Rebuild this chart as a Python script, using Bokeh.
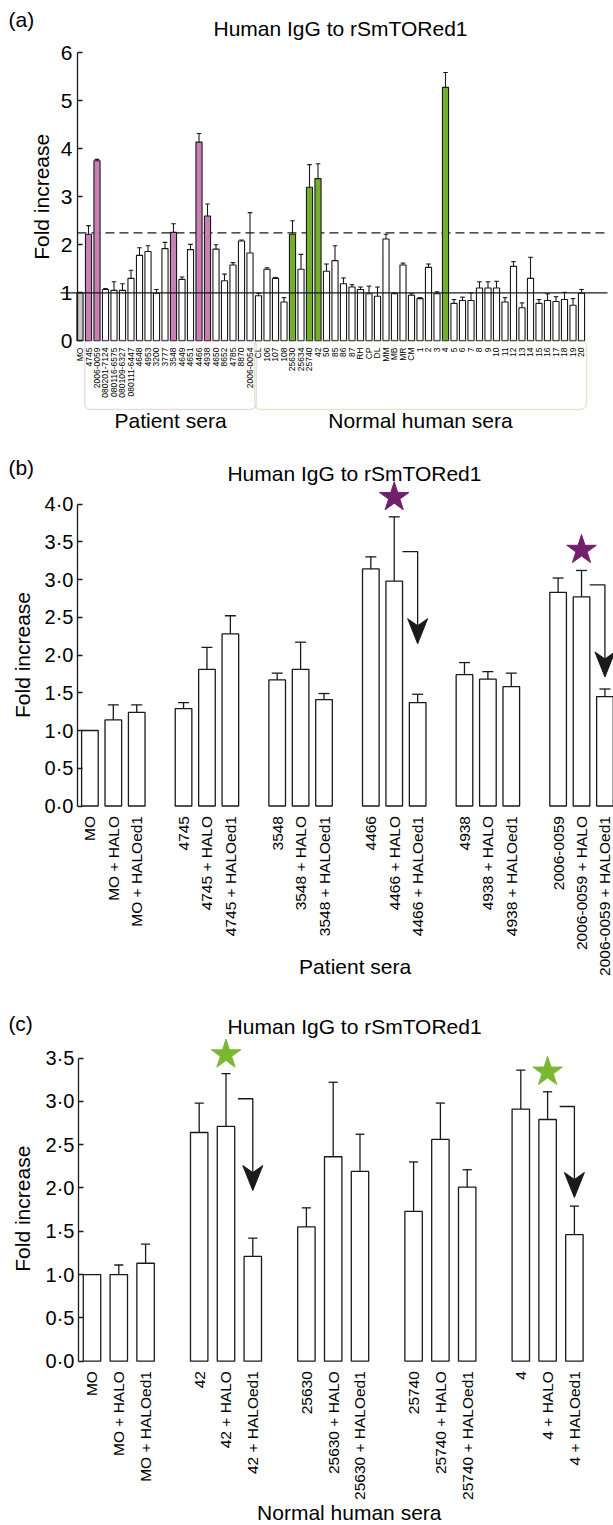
import math
from bokeh.plotting import figure
from bokeh.layouts import column
from bokeh.models import Range1d, FixedTicker, BoxAnnotation, CustomJSTickFormatter
from bokeh.core.properties import value
from bokeh.embed import file_html
from bokeh.resources import INLINE

FONT = "Liberation Sans"
INK = "#1a1a1a"
PINK = "#c77fb5"
GREEN = "#74ae2d"
GREEN_STAR = "#7ab733"
GREEN_BOX = "#8cc152"
PURPLE = "#741e6e"
GREY = "#c8c8c8"

# ---------------- data: panel (a) ----------------
a_labels = ["MO", "4745", "2006-0059", "080201-7124", "080116-6575", "080109-6327", "080111-6447",
            "4648", "4953", "3200", "3777", "3548", "4649", "4651", "4466", "4938", "4650", "8652",
            "4785", "8870", "2006-0054",
            "CL", "106", "107", "108", "25630", "25634", "25740", "42", "50", "85", "86", "87",
            "RH", "CP", "DL", "MM", "MB", "MR", "CM",
            "1", "2", "3", "4", "5", "6", "7", "8", "9", "10", "11", "12", "13", "14", "15",
            "16", "17", "18", "19", "20"]
a_values = [1.00, 2.22, 3.75, 1.07, 1.05, 1.05, 1.30, 1.78, 1.86, 0.99, 1.92, 2.26, 1.28, 1.90,
            4.14, 2.60, 1.91, 1.25, 1.58, 2.08, 1.83,
            0.94, 1.49, 1.30, 0.81, 2.22, 1.49, 3.20, 3.38, 1.45, 1.67, 1.19, 1.12,
            1.07, 0.98, 0.93, 2.12, 0.98, 1.58, 0.95,
            0.88, 1.53, 0.98, 5.28, 0.78, 0.84, 0.84, 1.10, 1.10, 1.10, 0.81, 1.55, 0.69, 1.30, 0.78,
            0.84, 0.82, 0.86, 0.74, 0.99]
a_errors = [0.00, 0.18, 0.03, 0.02, 0.18, 0.14, 0.17, 0.16, 0.12, 0.08, 0.13, 0.18, 0.05, 0.11,
            0.18, 0.25, 0.09, 0.14, 0.05, 0.02, 0.84,
            0.05, 0.03, 0.02, 0.09, 0.28, 0.31, 0.47, 0.31, 0.15, 0.31, 0.12, 0.05,
            0.05, 0.16, 0.19, 0.10, 0.02, 0.04, 0.03,
            0.02, 0.07, 0.04, 0.31, 0.08, 0.07, 0.16, 0.13, 0.13, 0.14, 0.09, 0.10, 0.10, 0.44, 0.08,
            0.14, 0.10, 0.15, 0.14, 0.08]
a_control = ["MO"]
a_patient_hits = ["4745", "2006-0059", "3548", "4466", "4938"]
a_normal_hits = ["25630", "25740", "42", "4"]
a_cutoff = 2.25
a_groups = ["Patient sera", "Normal human sera"]
a_yticks = [0, 1, 2, 3, 4, 5, 6]

# ---------------- data: panel (b) ----------------
b_sera = ["MO", "4745", "3548", "4466", "4938", "2006-0059"]
b_treatments = ["", " + HALO", " + HALOed1"]
b_values = [1.00, 1.14, 1.24, 1.29, 1.81, 2.28, 1.67, 1.81, 1.41,
            3.14, 2.98, 1.37, 1.74, 1.68, 1.58, 2.83, 2.77, 1.45]
b_errors = [0.00, 0.20, 0.10, 0.08, 0.29, 0.24, 0.09, 0.36, 0.08,
            0.16, 0.85, 0.11, 0.16, 0.10, 0.18, 0.19, 0.35, 0.10]
b_yticks = [0, 0.5, 1, 1.5, 2, 2.5, 3, 3.5, 4]
b_star_sera = ["4466", "2006-0059"]
b_star_y = [4.09, 3.39]
b_arrow_top = [3.37, 2.93]
b_arrow_tip = [2.15, 1.71]

# ---------------- data: panel (c) ----------------
c_sera = ["MO", "42", "25630", "25740", "4"]
c_treatments = ["", " + HALO", " + HALOed1"]
c_values = [1.00, 1.00, 1.13, 2.64, 2.71, 1.21, 1.55, 2.36, 2.19,
            1.73, 2.56, 2.01, 2.91, 2.79, 1.46]
c_errors = [0.00, 0.11, 0.22, 0.34, 0.61, 0.21, 0.22, 0.86, 0.43,
            0.57, 0.42, 0.20, 0.45, 0.32, 0.33]
c_yticks = [0, 0.5, 1, 1.5, 2, 2.5, 3, 3.5]
c_star_sera = ["42", "4"]
c_star_y = [3.54, 3.34]
c_arrow_top = [3.03, 2.94]
c_arrow_tip = [1.97, 1.89]

TITLE = "Human IgG to rSmTORed1"
YLABEL = "Fold increase"
W = 613


def txt(p, x, y, text, size, angle=0.0, align="center", baseline="middle"):
    p.text(x=[x], y=[y], text=[text], angle=angle, text_align=align, text_baseline=baseline,
           text_font=value(FONT), text_font_size=size, text_color="black")


def new_fig(height, xr, yr, x_axis=True):
    p = figure(width=W, height=height, x_range=Range1d(*xr), y_range=Range1d(*yr),
               output_backend="svg", toolbar_location=None,
               x_axis_location="below" if x_axis else None,
               min_border_left=0, min_border_right=0, min_border_top=0, min_border_bottom=0)
    p.outline_line_color = None
    p.grid.visible = False
    p.background_fill_color = "white"
    p.border_fill_color = "white"
    return p


def style_yaxis(p, ticks, size, bounds, loc, fmt=None, standoff=4):
    ax = p.yaxis[0]
    ax.fixed_location = loc
    ax.ticker = FixedTicker(ticks=ticks)
    ax.bounds = bounds
    ax.axis_line_color = INK
    ax.axis_line_width = 1.3
    ax.major_tick_line_color = INK
    ax.major_tick_line_width = 1.3
    ax.major_tick_in = 5
    ax.major_tick_out = 0
    ax.minor_tick_line_color = None
    ax.major_label_text_font = FONT
    ax.major_label_text_font_size = size
    ax.major_label_text_color = "black"
    ax.major_label_standoff = standoff
    if fmt is not None:
        ax.formatter = fmt


def add_errorbars(p, xs, vals, errs, half, lw):
    xe = [x for x, e in zip(xs, errs) if e > 0]
    v0 = [v for v, e in zip(vals, errs) if e > 0]
    v1 = [v + e for v, e in zip(vals, errs) if e > 0]
    p.segment(x0=xe, y0=v0, x1=xe, y1=v1, line_color=INK, line_width=lw)
    p.segment(x0=[x - half for x in xe], y0=v1, x1=[x + half for x in xe], y1=v1,
              line_color=INK, line_width=lw)


# ================= panel (a) =================
pA = new_fig(450, (-9.353, 62.765), (-2.285, 7.090), x_axis=False)
style_yaxis(pA, a_yticks, "21px", (0, 6), -0.3, standoff=5)

xa = list(range(len(a_labels)))
colA = []
for lab in a_labels:
    if lab in a_control:
        colA.append(GREY)
    elif lab in a_patient_hits:
        colA.append(PINK)
    elif lab in a_normal_hits:
        colA.append(GREEN)
    else:
        colA.append("white")

right_a = 62.06
pA.segment(x0=[-0.3], y0=[a_cutoff], x1=[right_a], y1=[a_cutoff], line_color=INK,
           line_width=1.3, line_dash="9 5")
pA.vbar(x=xa, top=a_values, bottom=0, width=0.72, fill_color=colA, line_color=INK, line_width=1.1)
add_errorbars(pA, xa, a_values, a_errors, 0.27, 1.1)
pA.segment(x0=[-2.3], y0=[1], x1=[right_a], y1=[1], line_color=INK, line_width=1.3)

pA.text(x=xa, y=[-0.14] * len(xa), text=a_labels, angle=math.pi / 2, text_align="right",
        text_baseline="middle", text_font=value(FONT), text_font_size="8.5px", text_color="black")

pA.add_layout(BoxAnnotation(left=0.55, right=20.75, top=0.02, bottom=-1.43, fill_alpha=0,
                            line_color=PINK, line_width=1.4, border_radius=6))
pA.add_layout(BoxAnnotation(left=20.55, right=59.6, top=0.02, bottom=-1.43, fill_alpha=0,
                            line_color=GREEN_BOX, line_width=1.4, border_radius=6))
txt(pA, 10.65, -1.66, a_groups[0], "21px")
txt(pA, 40.06, -1.66, a_groups[1], "21px")
txt(pA, 30.65, 6.5, TITLE, "21px")
txt(pA, -8.41, 6.69, "(a)", "21px", align="left")
txt(pA, -4.53, 3.0, YLABEL, "21px", angle=math.pi / 2)


# ================= panels (b), (c) =================
def grouped_panel(sera, treatments, vals, errs, yticks, height, xr, yr, yloc, star_sera, star_y,
                  star_color, arrow_top, arrow_tip, bracket_off, bar_w, cap):
    p = new_fig(height, xr, yr)
    fmt = CustomJSTickFormatter(code="return tick.toFixed(1).replace('.', '\u00b7');")
    style_yaxis(p, yticks, "20px", (0, yticks[-1]), yloc, fmt=fmt, standoff=4)
    pos, labels = [], []
    for g, s in enumerate(sera):
        for k, t in enumerate(treatments):
            pos.append(g * 4 + k)
            labels.append(s + t)
    p.vbar(x=pos, top=vals, bottom=0, width=bar_w, fill_color="white", line_color=INK,
           line_width=1.3)
    add_errorbars(p, pos, vals, errs, cap, 1.3)
    ax = p.xaxis[0]
    ax.fixed_location = 0
    ax.ticker = FixedTicker(ticks=pos)
    ax.major_label_overrides = {x: l for x, l in zip(pos, labels)}
    ax.major_label_orientation = math.pi / 2
    ax.major_label_text_font = FONT
    ax.major_label_text_font_size = "15.5px"
    ax.major_label_text_color = "black"
    ax.major_label_standoff = 4
    ax.axis_line_color = None
    ax.major_tick_line_color = None
    ax.minor_tick_line_color = None
    sx = [sera.index(s) * 4 + 1 for s in star_sera]
    p.scatter(x=sx, y=star_y, marker="star", size=31, fill_color=star_color,
              line_color=star_color)
    # pixel -> data conversions for the arrowhead shape
    ux = (xr[1] - xr[0]) / W
    uy = (yr[1] - yr[0]) / height
    hw, hl, notch = 10 * ux, 25 * uy, 18 * uy
    for s, top, tip in zip(star_sera, arrow_top, arrow_tip):
        x0 = sera.index(s) * 4 + 1 + bracket_off
        x1 = sera.index(s) * 4 + 2
        p.line(x=[x0, x1, x1], y=[top, top, tip + notch], line_color=INK, line_width=1.3)
        p.patch(x=[x1, x1 - hw, x1, x1 + hw], y=[tip, tip + hl, tip + notch, tip + hl],
                fill_color=INK, line_color=INK, line_width=1)
    return p


pB = grouped_panel(b_sera, b_treatments, b_values, b_errors, b_yticks, 545,
                   (-3.819, 22.366), (-2.510, 4.709), -0.53, b_star_sera, b_star_y, PURPLE,
                   b_arrow_top, b_arrow_tip, 0.35, 0.71, 0.235)
txt(pB, 11.3, 4.40, TITLE, "21px")
txt(pB, -3.48, 4.48, "(b)", "21px", align="left")
txt(pB, -2.90, 2.0, YLABEL, "21px", angle=math.pi / 2)
txt(pB, 11.33, -2.12, "Patient sera", "21px")

pC = grouped_panel(c_sera, c_treatments, c_values, c_errors, c_yticks, 530,
                   (-3.414, 19.459), (-1.898, 4.222), -0.504, c_star_sera, c_star_y,
                   GREEN_STAR, c_arrow_top, c_arrow_tip, 0.45, 0.65, 0.17)
txt(pC, 9.8, 3.86, TITLE, "21px")
txt(pC, -3.12, 3.90, "(c)", "21px", align="left")
txt(pC, -2.61, 1.76, YLABEL, "21px", angle=math.pi / 2)
txt(pC, 9.6, -1.745, "Normal human sera", "21px")

layout = column(pA, pB, pC, spacing=0)
open("out.html", "w").write(file_html(layout, INLINE))
